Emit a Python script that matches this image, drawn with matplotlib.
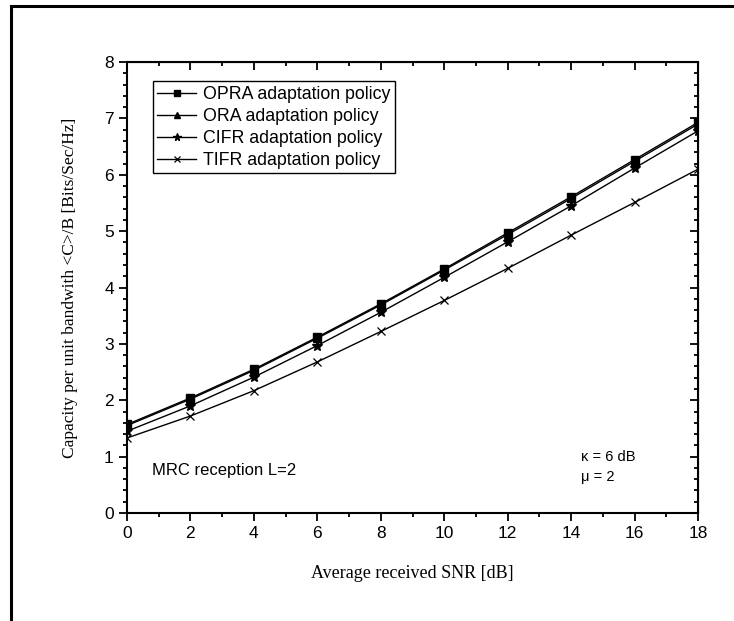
import numpy as np
import matplotlib.pyplot as plt
from matplotlib.ticker import MultipleLocator
from matplotlib.lines import Line2D

# Datos
snr_db = [0, 2, 4, 6, 8, 10, 12, 14, 16, 18]
opra = [1.57, 2.04, 2.55, 3.12, 3.71, 4.33, 4.97, 5.61, 6.27, 6.93]
ora = [1.55, 2.02, 2.53, 3.10, 3.69, 4.31, 4.94, 5.58, 6.24, 6.90]
cifr = [1.45, 1.90, 2.41, 2.97, 3.56, 4.18, 4.81, 5.45, 6.12, 6.78]
tifr = [1.33, 1.72, 2.17, 2.68, 3.22, 3.77, 4.34, 4.93, 5.51, 6.10]

labels = ['OPRA adaptation policy', 'ORA adaptation policy',
          'CIFR adaptation policy', 'TIFR adaptation policy']

sans = ['Liberation Sans', 'DejaVu Sans']
serif = ['Liberation Serif', 'DejaVu Serif']

fig = plt.figure(figsize=(7.34, 6.21), dpi=100)
ax = fig.add_axes([0.173, 0.174, 0.778, 0.726])

ax.plot(snr_db, opra, 'k-', marker='s', markersize=6, lw=1, label=labels[0])
ax.plot(snr_db, ora, 'k-', marker='^', markersize=6, lw=1, label=labels[1])
ax.plot(snr_db, cifr, 'k-', marker='*', markersize=7, lw=1, label=labels[2])
ax.plot(snr_db, tifr, 'k-', marker='x', markersize=6, mew=0.9, lw=1, label=labels[3])

ax.set_xlim(0, 18)
ax.set_ylim(0, 8)
ax.xaxis.set_major_locator(MultipleLocator(2))
ax.xaxis.set_minor_locator(MultipleLocator(1))
ax.yaxis.set_major_locator(MultipleLocator(1))
ax.yaxis.set_minor_locator(MultipleLocator(0.2))
ax.tick_params(which='both', direction='out', width=1.3, labelsize=12.5)
ax.tick_params(which='major', length=6)
ax.tick_params(which='minor', length=3)
for lbl in ax.get_xticklabels() + ax.get_yticklabels():
    lbl.set_family(sans)
for sp in ax.spines.values():
    sp.set_linewidth(1.5)

# ticks hacia dentro arriba y a la derecha
top = ax.secondary_xaxis('top')
top.xaxis.set_major_locator(MultipleLocator(2))
top.xaxis.set_minor_locator(MultipleLocator(1))
top.tick_params(which='both', direction='in', width=1.3, labeltop=False)
top.tick_params(which='major', length=6)
top.tick_params(which='minor', length=3)
right = ax.secondary_yaxis('right')
right.yaxis.set_major_locator(MultipleLocator(1))
right.yaxis.set_minor_locator(MultipleLocator(0.2))
right.tick_params(which='both', direction='in', width=1.3, labelright=False)
right.tick_params(which='major', length=6)
right.tick_params(which='minor', length=3)

ax.set_xlabel('Average received SNR [dB]', family=serif, fontsize=13, labelpad=17)
ax.set_ylabel('Capacity per unit bandwith <C>/B [Bits/Sec/Hz]', family=serif,
              fontsize=12.5, labelpad=19)

leg = ax.legend(loc='upper left', bbox_to_anchor=(0.045, 0.957), frameon=True,
                fancybox=False, edgecolor='black', framealpha=1,
                prop={'family': sans, 'size': 12.8}, handlelength=2.2,
                handletextpad=0.4, borderpad=0.25, labelspacing=0.28,
                borderaxespad=0, markerscale=0.8)
leg.get_frame().set_linewidth(1.0)

ax.text(0.8, 0.75, 'MRC reception L=2', family=sans, fontsize=12, va='center')
ax.text(14.3, 1.0, 'κ = 6 dB', family=sans, fontsize=10.5, va='center')
ax.text(14.3, 0.63, 'μ = 2', family=sans, fontsize=10.5, va='center')

# marco exterior recortado
fig.add_artist(Line2D([11 / 734, 1.0], [1 - 6 / 621, 1 - 6 / 621], color='black',
                      lw=2.2, transform=fig.transFigure))
fig.add_artist(Line2D([11 / 734, 11 / 734], [1 - 6 / 621, 0.0], color='black',
                      lw=2.2, transform=fig.transFigure))

fig.savefig('out.png', dpi=100)
